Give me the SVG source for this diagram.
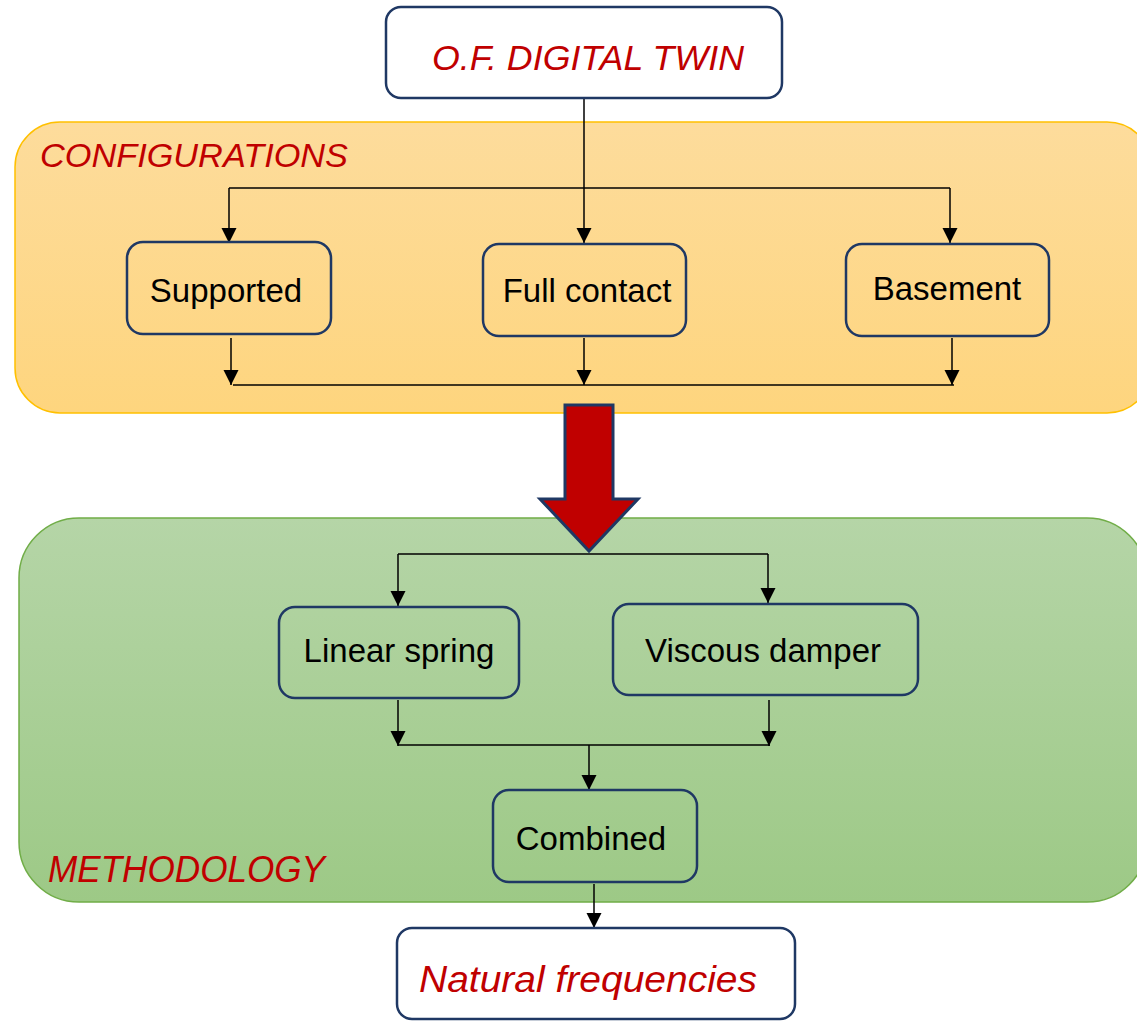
<svg xmlns="http://www.w3.org/2000/svg" width="1137" height="1022" viewBox="0 0 1137 1022">
<style>
.node{stroke:#1F3864;stroke-width:2.5}
.lbl{font-family:"Liberation Sans",Arial,sans-serif;font-size:33px;fill:#000;text-anchor:middle}
.red{font-family:"Liberation Sans",Arial,sans-serif;font-style:italic;fill:#C00000}
.conn{stroke:#000;stroke-width:1.5;fill:none}
</style>
<defs>
<linearGradient id="gOrange" x1="0" y1="0" x2="0" y2="1">
<stop offset="0" stop-color="#FDDC9C"/>
<stop offset="1" stop-color="#FED57E"/>
</linearGradient>
<linearGradient id="gGreen" x1="0" y1="0" x2="0" y2="1">
<stop offset="0" stop-color="#B5D5A7"/>
<stop offset="1" stop-color="#9DC986"/>
</linearGradient>
<marker id="ah" markerUnits="userSpaceOnUse" markerWidth="16" markerHeight="16" refX="15" refY="7.5" orient="auto">
<path d="M0,0 L15,7.5 L0,15 Z" fill="#000"/>
</marker>
</defs>
<g id="panel-configurations">
<rect x="15" y="122" width="1137" height="291" rx="45" fill="url(#gOrange)" stroke="#FFC000" stroke-width="1.5"/>
<text class="red" x="40" y="167" font-size="34" textLength="308" lengthAdjust="spacingAndGlyphs">CONFIGURATIONS</text>
</g>
<g id="panel-methodology">
<rect x="19" y="518" width="1128" height="384" rx="60" fill="url(#gGreen)" stroke="#70AD47" stroke-width="1.5"/>
<text class="red" x="48" y="882" font-size="36" textLength="277" lengthAdjust="spacingAndGlyphs">METHODOLOGY</text>
</g>
<g id="big-arrow">
<path d="M565,405 H613 V499 H638 L589,551 L540,499 H565 Z" fill="#C00000" stroke="#1F3864" stroke-width="3" stroke-linejoin="miter"/>
</g>
<g id="connectors">
<path class="conn" d="M584,98 V243" marker-end="url(#ah)"/>
<path class="conn" d="M229,188 H950"/>
<path class="conn" d="M229,188 V243" marker-end="url(#ah)"/>
<path class="conn" d="M950,188 V243" marker-end="url(#ah)"/>
<path class="conn" d="M231,338 V385" marker-end="url(#ah)"/>
<path class="conn" d="M584,338 V385" marker-end="url(#ah)"/>
<path class="conn" d="M952,338 V385" marker-end="url(#ah)"/>
<path class="conn" d="M233,385 H954" stroke="#333"/>
<path class="conn" d="M398,554 H768"/>
<path class="conn" d="M398,554 V606" marker-end="url(#ah)"/>
<path class="conn" d="M768,554 V603" marker-end="url(#ah)"/>
<path class="conn" d="M398,700 V746" marker-end="url(#ah)"/>
<path class="conn" d="M769,700 V746" marker-end="url(#ah)"/>
<path class="conn" d="M398,745 H770"/>
<path class="conn" d="M589,745 V790" marker-end="url(#ah)"/>
<path class="conn" d="M594,884 V928" marker-end="url(#ah)"/>
</g>
<g id="node-digital-twin">
<rect class="node" x="386" y="7" width="396" height="91" rx="15" fill="#fff"/>
<text class="red" x="588" y="70" font-size="35" text-anchor="middle" textLength="312" lengthAdjust="spacingAndGlyphs">O.F. DIGITAL TWIN</text>
</g>
<g id="node-supported">
<rect class="node" x="127" y="242" width="204" height="92" rx="16" fill="none"/>
<text class="lbl" x="226" y="302">Supported</text>
</g>
<g id="node-full-contact">
<rect class="node" x="483" y="244" width="203" height="92" rx="16" fill="none"/>
<text class="lbl" x="587" y="302">Full contact</text>
</g>
<g id="node-basement">
<rect class="node" x="846" y="244" width="203" height="92" rx="16" fill="none"/>
<text class="lbl" x="947" y="300">Basement</text>
</g>
<g id="node-linear-spring">
<rect class="node" x="279" y="607" width="240" height="91" rx="16" fill="none"/>
<text class="lbl" x="399" y="662">Linear spring</text>
</g>
<g id="node-viscous-damper">
<rect class="node" x="613" y="604" width="305" height="91" rx="16" fill="none"/>
<text class="lbl" x="763" y="662">Viscous damper</text>
</g>
<g id="node-combined">
<rect class="node" x="493" y="790" width="204" height="92" rx="16" fill="none"/>
<text class="lbl" x="591" y="850">Combined</text>
</g>
<g id="node-natural-frequencies">
<rect class="node" x="397" y="928" width="398" height="91" rx="15" fill="#fff"/>
<text class="red" x="588" y="992" font-size="36" text-anchor="middle" textLength="338" lengthAdjust="spacingAndGlyphs">Natural frequencies</text>
</g>
</svg>
